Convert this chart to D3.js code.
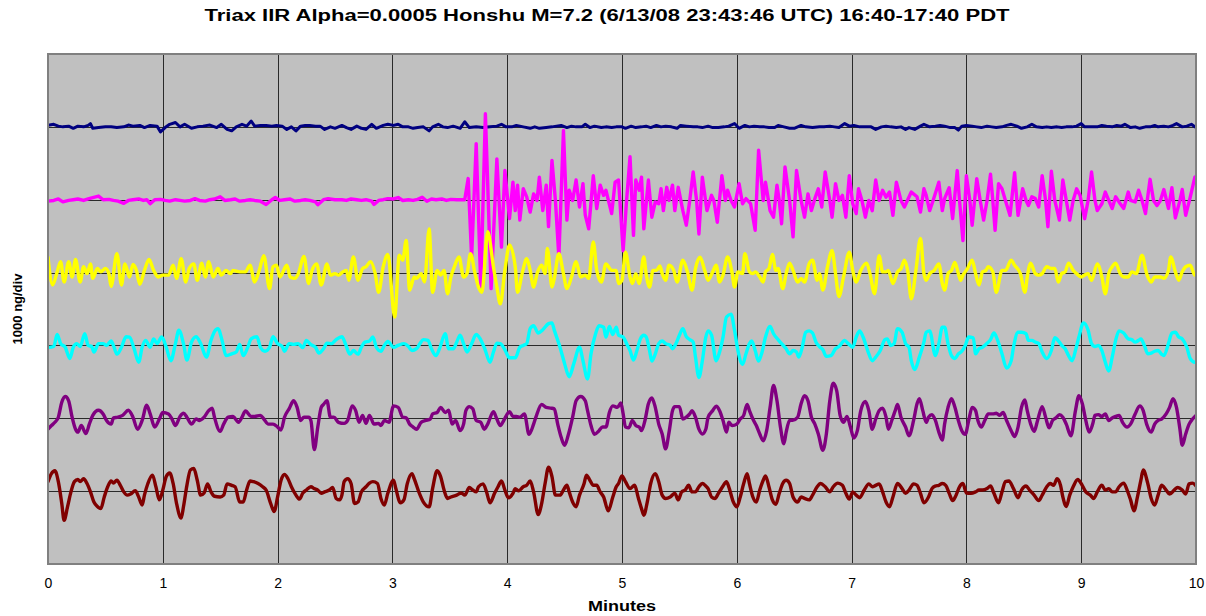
<!DOCTYPE html>
<html>
<head>
<meta charset="utf-8">
<script src="https://cdn.jsdelivr.net/npm/d3@7/dist/d3.min.js"></script>
<style>
  html, body { margin: 0; padding: 0; background: #fff; }
  svg { display: block; }
  text { font-family: "Liberation Sans", Arial, sans-serif; fill: #000; }
</style>
</head>
<body>
<svg id="chart" width="1206" height="616"></svg>
<script>
// Six seismometer channels, each as [minute, deviation in ng] pairs,
// plotted about its own trace offset (1000 ng per division).
const traceNavy = [[0,20],[0.05,35],[0.09,10],[0.13,0],[0.18,10],[0.22,-20],[0.26,10],[0.31,0],[0.35,20],[0.37,45],[0.39,-20],[0.44,-10],[0.5,0],[0.55,0],[0.6,-10],[0.66,0],[0.7,25],[0.74,10],[0.8,20],[0.84,-10],[0.89,20],[0.95,10],[0.98,-70],[1.02,-10],[1.06,35],[1.11,60],[1.15,0],[1.19,35],[1.25,-20],[1.3,0],[1.35,10],[1.41,25],[1.47,-10],[1.51,35],[1.56,-35],[1.6,-55],[1.64,0],[1.69,35],[1.73,10],[1.77,80],[1.8,10],[1.85,20],[1.9,20],[1.95,10],[1.99,20],[2.04,10],[2.08,-35],[2.12,0],[2.16,-55],[2.2,10],[2.24,20],[2.28,20],[2.33,10],[2.37,10],[2.41,-35],[2.46,0],[2.5,-20],
[2.56,20],[2.6,-10],[2.64,-35],[2.69,10],[2.73,-20],[2.77,-35],[2.82,35],[2.86,-20],[2.92,20],[2.96,35],[3.01,20],[3.05,35],[3.09,0],[3.14,0],[3.18,-20],[3.22,-10],[3.27,0],[3.32,-55],[3.35,0],[3.4,35],[3.44,0],[3.48,-10],[3.53,10],[3.59,-20],[3.63,70],[3.67,-10],[3.73,0],[3.79,-10],[3.85,0],[3.91,10],[3.95,35],[3.99,0],[4.04,0],[4.08,20],[4.14,0],[4.2,-20],[4.24,0],[4.28,-20],[4.34,-10],[4.39,0],[4.43,10],[4.47,20],[4.52,-10],[4.56,10],[4.6,0],[4.65,0],[4.68,35],[4.72,-10],[4.76,10],[4.82,-10],[4.86,0],[4.91,-10],[4.95,0],
[5,0],[5.03,-20],[5.08,10],[5.12,-10],[5.17,0],[5.21,10],[5.25,-10],[5.3,20],[5.34,0],[5.38,10],[5.43,0],[5.48,-20],[5.51,20],[5.56,10],[5.62,0],[5.66,0],[5.7,-10],[5.75,10],[5.79,-10],[5.84,-10],[5.89,0],[5.93,10],[5.98,45],[6.02,-20],[6.07,20],[6.11,0],[6.15,10],[6.2,0],[6.24,0],[6.28,-10],[6.33,-10],[6.36,20],[6.41,0],[6.46,-20],[6.5,-20],[6.56,20],[6.6,0],[6.66,-10],[6.72,0],[6.76,0],[6.81,10],[6.85,0],[6.89,-10],[6.94,45],[6.98,10],[7.02,20],[7.07,0],[7.11,0],[7.17,0],[7.21,-35],[7.26,0],[7.3,10],[7.34,0],[7.39,-10],[7.43,0],[7.47,-35],
[7.5,-10],[7.55,-35],[7.6,10],[7.63,35],[7.68,0],[7.73,10],[7.77,20],[7.81,10],[7.86,-10],[7.9,-10],[7.93,-45],[7.96,10],[8,20],[8.05,10],[8.09,0],[8.13,-10],[8.18,10],[8.22,0],[8.26,-10],[8.31,0],[8.35,20],[8.39,35],[8.44,10],[8.48,-20],[8.53,0],[8.57,35],[8.61,0],[8.66,-10],[8.7,0],[8.74,-10],[8.79,0],[8.83,-10],[8.87,0],[8.92,0],[8.96,10],[9,45],[9.03,0],[9.09,0],[9.14,0],[9.18,20],[9.22,10],[9.27,0],[9.31,20],[9.35,10],[9.38,35],[9.43,-10],[9.47,0],[9.51,-20],[9.56,0],[9.6,0],[9.64,20],[9.67,0],[9.72,10],[9.76,0],[9.8,20],[9.83,45],[9.88,0],[9.92,10],[9.96,35],[10,-10]];

const traceMagenta = [[0,-20],[0.05,-10],[0.09,10],[0.13,-30],[0.18,-10],[0.22,0],[0.26,10],[0.31,-10],[0.35,10],[0.39,30],[0.44,50],[0.48,0],[0.53,5],[0.57,-10],[0.61,-20],[0.66,-50],[0.7,-10],[0.74,0],[0.79,10],[0.83,-10],[0.86,0],[0.89,-55],[0.93,0],[0.98,5],[1.02,-10],[1.06,-20],[1.11,0],[1.15,-10],[1.19,-20],[1.24,-10],[1.28,15],[1.32,-10],[1.37,-20],[1.41,0],[1.45,10],[1.5,40],[1.54,-10],[1.59,0],[1.63,10],[1.67,-20],[1.72,-10],[1.76,0],[1.8,-10],[1.85,-20],[1.9,-65],[1.95,0],[1.98,30],[2.02,-10],[2.06,0],[2.11,10],[2.15,-20],[2.2,-10],[2.24,0],[2.28,-10],[2.33,-30],[2.35,-70],[2.4,0],[2.44,15],[2.5,0],
[2.56,0],[2.6,-10],[2.64,10],[2.69,0],[2.73,-10],[2.77,0],[2.82,-20],[2.84,-65],[2.88,-10],[2.92,0],[2.96,15],[3.01,10],[3.05,30],[3.09,-10],[3.14,0],[3.18,-10],[3.22,5],[3.26,35],[3.3,-20],[3.34,10],[3.38,0],[3.43,10],[3.47,-10],[3.51,5],[3.56,0],[3.6,0],[3.63,0],
[3.66,290],[3.69,-790],[3.73,770],[3.77,-1200],[3.81,1180],[3.86,-1220],[3.91,560],[3.95,-650],[3.98,400],[4.02,-260],[4.05,240],[4.07,-150],[4.09,200],[4.11,-280],[4.14,150],[4.17,40],[4.2,-170],[4.23,80],[4.26,-10],[4.28,310],[4.31,-150],[4.34,200],[4.36,-370],[4.39,540],[4.42,-10],[4.45,-790],[4.49,950],[4.52,-280],[4.54,130],[4.57,-10],[4.6,270],[4.63,-100],[4.66,220],[4.68,-210],[4.71,-400],[4.75,330],[4.78,-120],[4.81,200],[4.84,60],[4.86,130],[4.91,-190],[4.94,240],[4.97,270],
[5.01,-700],[5.04,-10],[5.07,590],[5.1,-490],[5.12,270],[5.15,130],[5.17,310],[5.19,-400],[5.23,270],[5.26,-240],[5.29,-30],[5.32,-55],[5.34,150],[5.36,-150],[5.39,170],[5.41,-10],[5.44,200],[5.46,-150],[5.49,170],[5.53,-150],[5.56,-350],[5.59,-10],[5.62,380],[5.65,-10],[5.67,-470],[5.7,310],[5.74,-150],[5.78,60],[5.8,-10],[5.83,-310],[5.87,330],[5.9,-10],[5.92,130],[5.95,-10],[5.98,-100],[6.02,220],[6.05,-55],[6.08,15],[6.12,-55],[6.16,-420],[6.19,680],[6.23,-10],[6.25,240],[6.29,-150],[6.32,-240],[6.35,200],[6.37,-10],[6.39,-330],[6.42,450],[6.46,-10],[6.49,-510],[6.52,400],[6.56,-10],[6.59,-240],[6.62,80],[6.65,-150],[6.68,15],[6.71,150],[6.74,-100],[6.77,380],[6.81,-10],[6.83,-240],[6.86,220],[6.89,-10],[6.92,60],[6.95,-240],[6.98,330],[7.01,-55],[7.04,-190],[7.06,150],[7.09,-10],[7.12,-240],[7.15,-10],[7.18,-150],[7.21,270],[7.24,-10],[7.27,130],[7.3,35],[7.33,105],[7.36,-215],[7.39,240],[7.43,-10],[7.46,-100],
[7.52,105],[7.57,40],[7.6,-170],[7.63,150],[7.65,60],[7.68,-150],[7.71,-10],[7.76,240],[7.79,-150],[7.81,15],[7.85,165],[7.88,-260],[7.92,400],[7.94,-10],[7.97,-560],[8,330],[8.03,-10],[8.05,-350],[8.09,290],[8.12,-10],[8.15,-280],[8.18,-10],[8.21,350],[8.23,-10],[8.25,-420],[8.28,220],[8.31,150],[8.34,-10],[8.38,-215],[8.42,370],[8.45,-215],[8.49,150],[8.52,-10],[8.54,-80],[8.57,40],[8.6,15],[8.63,-100],[8.66,330],[8.69,-10],[8.71,-370],[8.74,390],[8.77,-10],[8.81,-280],[8.84,270],[8.87,-10],[8.9,-280],[8.93,-10],[8.96,150],[8.99,60],[9.03,-260],[9.06,-10],[9.09,380],[9.12,-10],[9.14,-150],[9.18,-55],[9.21,105],[9.24,-10],[9.27,-120],[9.3,40],[9.34,-55],[9.37,-120],[9.41,105],[9.43,-10],[9.47,-30],[9.5,130],[9.53,-10],[9.56,-190],[9.6,280],[9.63,-10],[9.66,-80],[9.69,-10],[9.72,140],[9.76,-120],[9.79,165],[9.82,-250],[9.86,-10],[9.88,140],[9.91,-215],[9.95,35],[9.99,310],[10,320]];

const traceYellow = [[0,210],[0.04,-170],[0.08,10],[0.11,150],[0.14,-130],[0.18,150],[0.21,-60],[0.24,180],[0.28,-130],[0.31,80],[0.34,-15],[0.37,120],[0.39,-80],[0.43,55],[0.46,10],[0.5,55],[0.53,-15],[0.55,-190],[0.6,260],[0.64,-170],[0.67,120],[0.71,-60],[0.74,110],[0.77,30],[0.8,-160],[0.84,30],[0.88,180],[0.92,30],[0.96,-60],[1,-35],[1.05,-35],[1.09,100],[1.12,-80],[1.16,190],[1.2,-130],[1.23,55],[1.27,120],[1.3,-105],[1.34,130],[1.37,-60],[1.4,150],[1.44,-60],[1.48,55],[1.51,-35],[1.55,30],[1.59,-15],[1.61,30],[1.67,10],[1.72,10],[1.76,100],[1.8,-130],[1.84,30],[1.88,230],[1.93,-220],[1.96,80],[1.99,100],[2.02,-60],[2.08,100],[2.11,-60],[2.15,-80],[2.18,-15],[2.23,220],[2.27,-150],[2.3,30],[2.34,120],[2.38,-170],[2.43,120],[2.46,-35],[2.5,-15],
[2.53,-35],[2.57,10],[2.6,30],[2.62,-105],[2.66,215],[2.7,-105],[2.74,55],[2.77,80],[2.81,150],[2.85,-15],[2.88,-270],[2.92,80],[2.96,250],[3.02,-610],[3.06,240],[3.09,170],[3.12,440],[3.15,-240],[3.19,-60],[3.21,-80],[3.25,-15],[3.28,-130],[3.32,600],[3.35,-270],[3.39,30],[3.42,-35],[3.45,30],[3.48,-290],[3.51,-60],[3.54,80],[3.58,215],[3.62,-60],[3.65,-15],[3.68,260],[3.72,-15],[3.75,-200],[3.78,-270],[3.83,560],[3.88,80],[3.91,-200],[3.94,-430],[3.98,30],[4.02,380],[4.07,80],[4.09,-270],[4.13,-15],[4.17,190],[4.2,30],[4.23,-200],[4.26,-15],[4.3,100],[4.33,-15],[4.35,330],[4.39,-200],[4.41,-80],[4.45,260],[4.49,-15],[4.52,-220],[4.56,-60],[4.6,150],[4.64,-60],[4.68,-35],[4.71,-80],[4.75,420],[4.78,30],[4.82,-130],[4.86,120],[4.91,30],[4.95,30],[4.97,-150],
[5,-105],[5.03,280],[5.07,-60],[5.09,-150],[5.12,-15],[5.15,-150],[5.19,215],[5.21,-15],[5.24,-200],[5.27,30],[5.3,30],[5.33,90],[5.35,-15],[5.38,-105],[5.41,100],[5.45,30],[5.48,-130],[5.53,170],[5.57,10],[5.61,-240],[5.64,55],[5.68,210],[5.72,30],[5.75,-105],[5.79,10],[5.82,100],[5.85,-130],[5.88,-35],[5.92,215],[5.96,-15],[5.98,-200],[6.01,10],[6.05,-15],[6.07,260],[6.11,10],[6.14,-15],[6.16,10],[6.2,-60],[6.23,-130],[6.25,10],[6.28,55],[6.31,250],[6.34,30],[6.36,55],[6.4,-220],[6.43,-15],[6.46,130],[6.49,30],[6.53,-130],[6.56,-80],[6.59,-130],[6.63,120],[6.66,170],[6.7,-105],[6.72,-15],[6.75,-240],[6.79,80],[6.83,300],[6.86,-15],[6.89,-330],[6.93,-60],[6.98,280],[7.01,30],[7.04,-130],[7.08,30],[7.13,130],[7.16,-15],[7.2,-290],[7.24,230],[7.27,10],[7.3,10],[7.32,30],[7.36,-150],[7.4,10],[7.43,55],[7.46,170],
[7.49,10],[7.52,-360],[7.56,30],[7.6,470],[7.63,-15],[7.65,-105],[7.68,-15],[7.72,30],[7.76,120],[7.79,-150],[7.81,-240],[7.84,-15],[7.87,30],[7.9,140],[7.93,-15],[7.95,-105],[7.97,-35],[8.01,55],[8.05,170],[8.08,-15],[8.11,-170],[8.14,10],[8.17,30],[8.19,80],[8.23,10],[8.26,-270],[8.31,30],[8.34,30],[8.39,170],[8.42,100],[8.47,-15],[8.51,-270],[8.53,-60],[8.56,130],[8.6,-15],[8.63,-35],[8.66,-15],[8.7,80],[8.74,55],[8.77,55],[8.8,-130],[8.83,-15],[8.86,10],[8.89,130],[8.93,30],[8.96,-15],[9,-60],[9.03,-35],[9.06,-15],[9.09,-105],[9.14,120],[9.18,-60],[9.21,-290],[9.24,-15],[9.27,80],[9.3,130],[9.34,-15],[9.37,-60],[9.41,-60],[9.44,10],[9.48,-15],[9.53,240],[9.57,-15],[9.61,-130],[9.64,-60],[9.69,-60],[9.72,-80],[9.76,30],[9.78,215],[9.82,10],[9.85,-105],[9.88,10],[9.91,80],[9.95,100],[9.99,-35],[10,-35]];

const traceCyan = [[0,-30],[0.05,-15],[0.08,150],[0.11,25],[0.15,-25],[0.19,-180],[0.22,-25],[0.25,25],[0.28,-15],[0.32,160],[0.35,0],[0.38,-15],[0.4,-90],[0.44,25],[0.48,25],[0.51,0],[0.55,60],[0.57,0],[0.6,-120],[0.64,-25],[0.68,120],[0.71,115],[0.75,-45],[0.79,-230],[0.82,-25],[0.85,70],[0.89,-25],[0.92,90],[0.95,25],[0.99,115],[1.03,-25],[1.07,-210],[1.11,25],[1.14,210],[1.18,25],[1.21,-200],[1.25,45],[1.29,120],[1.33,25],[1.38,-160],[1.42,70],[1.45,190],[1.48,230],[1.52,45],[1.55,-140],[1.6,-115],[1.64,-90],[1.67,15],[1.7,-140],[1.74,-25],[1.77,90],[1.82,120],[1.85,-25],[1.89,-80],[1.93,-25],[1.96,120],[2,25],[2.04,-15],[2.06,-80],[2.1,25],[2.14,15],[2.18,25],[2.22,-30],[2.25,70],[2.29,10],[2.33,-25],[2.36,-105],[2.4,-45],[2.43,30],[2.47,25],[2.51,80],
[2.56,120],[2.59,25],[2.63,-120],[2.66,-70],[2.7,-120],[2.73,-25],[2.76,45],[2.8,60],[2.83,115],[2.86,-25],[2.9,-80],[2.93,0],[2.96,55],[3.01,-25],[3.05,0],[3.1,25],[3.14,-15],[3.17,-70],[3.21,-45],[3.24,25],[3.27,80],[3.31,70],[3.34,-45],[3.38,-140],[3.41,-45],[3.46,160],[3.49,-45],[3.53,-45],[3.56,45],[3.59,140],[3.62,25],[3.65,-90],[3.69,25],[3.73,150],[3.78,45],[3.81,-70],[3.85,-230],[3.88,-90],[3.91,30],[3.94,25],[3.98,-60],[4.02,-170],[4.07,-170],[4.11,-25],[4.14,0],[4.17,25],[4.2,230],[4.23,270],[4.27,170],[4.31,215],[4.36,300],[4.39,310],[4.41,210],[4.46,-25],[4.5,-250],[4.54,-430],[4.58,-250],[4.63,-25],[4.66,-210],[4.7,-460],[4.73,-115],[4.77,160],[4.8,270],[4.84,250],[4.86,115],[4.89,260],[4.92,150],[4.95,250],[4.97,140],
[5.01,115],[5.04,25],[5.07,-70],[5.1,-200],[5.13,-70],[5.16,90],[5.19,140],[5.21,120],[5.24,-70],[5.26,-215],[5.29,-115],[5.32,25],[5.35,60],[5.38,25],[5.42,0],[5.44,-45],[5.47,25],[5.5,140],[5.53,230],[5.56,120],[5.59,80],[5.62,45],[5.64,-160],[5.67,-440],[5.7,-210],[5.73,115],[5.75,200],[5.78,140],[5.82,-210],[5.85,-90],[5.88,115],[5.91,390],[5.95,430],[5.98,210],[6.01,-70],[6.05,-260],[6.08,-115],[6.11,25],[6.13,60],[6.16,-70],[6.19,-215],[6.22,-90],[6.25,115],[6.29,260],[6.32,160],[6.36,80],[6.39,25],[6.43,-45],[6.46,-115],[6.49,-70],[6.52,-90],[6.54,-160],[6.57,-25],[6.6,180],[6.63,200],[6.66,170],[6.69,45],[6.72,-15],[6.75,-60],[6.78,-150],[6.82,-140],[6.86,-45],[6.89,-15],[6.94,70],[6.97,25],[7.01,-25],[7.04,115],[7.07,200],[7.1,115],[7.14,-70],[7.18,-210],[7.21,-160],[7.25,-70],[7.29,80],[7.31,90],[7.34,0],[7.37,25],[7.4,230],[7.44,180],[7.47,25],
[7.5,-25],[7.52,-210],[7.55,-330],[7.59,-160],[7.63,45],[7.65,180],[7.68,200],[7.73,-140],[7.76,25],[7.79,250],[7.81,250],[7.84,25],[7.87,-140],[7.9,-180],[7.93,-115],[7.96,-80],[7.99,0],[8.02,115],[8.06,105],[8.08,-115],[8.11,-45],[8.14,-25],[8.18,30],[8.21,80],[8.24,170],[8.27,80],[8.31,-115],[8.35,-310],[8.39,-210],[8.41,-25],[8.45,180],[8.48,180],[8.52,160],[8.54,70],[8.57,70],[8.6,45],[8.63,25],[8.66,-90],[8.7,-180],[8.74,-70],[8.77,105],[8.81,45],[8.83,0],[8.86,-45],[8.89,-140],[8.92,-210],[8.95,-70],[8.98,115],[9.02,310],[9.06,210],[9.09,25],[9.12,-15],[9.15,0],[9.18,-70],[9.21,-230],[9.24,-350],[9.27,-160],[9.3,70],[9.33,200],[9.37,170],[9.41,90],[9.44,80],[9.47,45],[9.5,70],[9.52,90],[9.55,0],[9.58,-115],[9.61,-105],[9.64,-80],[9.67,-70],[9.7,-120],[9.72,-140],[9.76,25],[9.79,170],[9.82,180],[9.85,115],[9.88,90],[9.92,-25],[9.95,-180],[9.99,-230],[10,-230]];

const tracePurple = [[0,-150],[0.03,-100],[0.06,-55],[0.09,15],[0.12,220],[0.15,300],[0.18,240],[0.21,15],[0.24,-150],[0.26,-190],[0.29,-100],[0.33,-210],[0.36,-80],[0.39,40],[0.44,110],[0.48,60],[0.51,-30],[0.55,-80],[0.57,5],[0.61,15],[0.65,40],[0.7,110],[0.74,15],[0.78,-150],[0.82,-30],[0.86,180],[0.89,60],[0.93,-120],[0.97,-10],[1,80],[1.05,60],[1.08,-10],[1.11,-100],[1.15,25],[1.18,70],[1.21,15],[1.25,-80],[1.29,-10],[1.32,-30],[1.36,15],[1.4,105],[1.43,140],[1.45,15],[1.5,-180],[1.53,-80],[1.57,15],[1.61,25],[1.66,-55],[1.69,15],[1.72,100],[1.77,25],[1.8,25],[1.85,40],[1.88,-10],[1.92,-80],[1.96,-80],[2,-120],[2.03,-160],[2.06,15],[2.1,130],[2.14,240],[2.17,150],[2.2,-30],[2.23,15],[2.27,15],[2.29,-30],[2.32,-430],[2.35,-120],[2.38,150],[2.4,190],[2.43,240],[2.46,15],[2.49,15],[2.53,-55],
[2.58,-70],[2.61,-30],[2.65,170],[2.68,105],[2.71,-55],[2.74,40],[2.77,-70],[2.8,40],[2.84,-80],[2.88,-70],[2.9,-100],[2.93,-30],[2.97,-55],[3.01,170],[3.05,150],[3.09,15],[3.12,5],[3.15,-80],[3.18,-120],[3.21,-150],[3.25,-55],[3.29,-30],[3.33,-10],[3.35,60],[3.39,80],[3.42,150],[3.46,80],[3.49,110],[3.52,-80],[3.55,-30],[3.59,-170],[3.62,-80],[3.64,105],[3.67,160],[3.7,130],[3.73,-30],[3.77,-55],[3.8,-150],[3.83,-80],[3.88,90],[3.91,-10],[3.94,-100],[3.97,-30],[4.02,90],[4.05,25],[4.08,25],[4.11,15],[4.15,60],[4.19,-220],[4.23,-80],[4.25,15],[4.3,190],[4.34,150],[4.38,140],[4.41,130],[4.44,-80],[4.47,-260],[4.5,-370],[4.53,-240],[4.57,15],[4.6,240],[4.64,300],[4.68,240],[4.7,105],[4.73,-100],[4.76,-220],[4.8,-170],[4.83,-120],[4.86,-120],[4.89,80],[4.92,170],[4.96,150],[4.99,210],
[5.01,60],[5.03,-120],[5.06,-130],[5.09,-30],[5.12,-100],[5.15,-120],[5.17,-170],[5.2,-30],[5.23,200],[5.26,280],[5.29,150],[5.32,-80],[5.35,-215],[5.38,-420],[5.41,-190],[5.44,105],[5.46,160],[5.5,160],[5.53,-10],[5.56,15],[5.59,60],[5.61,105],[5.64,15],[5.67,-150],[5.7,-215],[5.73,-150],[5.75,15],[5.79,105],[5.82,165],[5.85,105],[5.88,-30],[5.91,-190],[5.93,-55],[5.96,-100],[6,-80],[6.03,-10],[6.06,40],[6.09,190],[6.11,105],[6.14,-10],[6.17,-100],[6.2,-215],[6.23,-310],[6.26,-170],[6.29,150],[6.32,450],[6.35,240],[6.38,-120],[6.41,-350],[6.43,-190],[6.46,-30],[6.49,-25],[6.53,15],[6.56,200],[6.59,310],[6.62,240],[6.65,15],[6.68,-80],[6.71,-215],[6.75,-440],[6.78,-215],[6.81,240],[6.84,480],[6.87,380],[6.9,40],[6.93,-55],[6.96,25],[6.99,-120],[7.02,-270],[7.05,-170],[7.08,105],[7.12,230],[7.15,105],[7.18,-150],[7.21,-10],[7.24,105],[7.27,140],[7.3,15],[7.32,-150],[7.35,-30],[7.38,105],[7.4,190],[7.43,15],[7.47,-120],
[7.5,-240],[7.54,-30],[7.57,200],[7.59,270],[7.62,105],[7.65,-55],[7.67,15],[7.7,50],[7.73,-30],[7.76,-190],[7.79,-300],[7.81,-80],[7.84,150],[7.87,270],[7.9,150],[7.93,-30],[7.96,-170],[7.99,-220],[8.02,-30],[8.05,150],[8.08,105],[8.1,-30],[8.13,-120],[8.16,-30],[8.19,60],[8.23,60],[8.26,70],[8.29,40],[8.32,80],[8.35,-30],[8.39,-170],[8.42,-250],[8.45,-120],[8.48,150],[8.51,250],[8.53,105],[8.56,-80],[8.59,-180],[8.62,-30],[8.66,160],[8.69,15],[8.72,-130],[8.75,-30],[8.78,5],[8.81,50],[8.84,15],[8.87,-80],[8.91,-240],[8.95,105],[8.98,310],[9.01,200],[9.04,-30],[9.07,-190],[9.1,-80],[9.12,40],[9.15,50],[9.18,25],[9.21,60],[9.24,-30],[9.27,5],[9.3,25],[9.33,40],[9.36,-55],[9.4,-120],[9.43,-80],[9.47,60],[9.51,170],[9.54,105],[9.57,-80],[9.61,-190],[9.64,-80],[9.67,-30],[9.7,-10],[9.74,60],[9.77,150],[9.8,270],[9.83,150],[9.86,-150],[9.88,-370],[9.91,-215],[9.94,-80],[9.97,-10],[10,40]];

const traceMaroon = [[0,130],[0.03,240],[0.06,280],[0.09,130],[0.12,-170],[0.14,-400],[0.17,-215],[0.2,-10],[0.23,130],[0.26,160],[0.28,130],[0.31,170],[0.34,105],[0.37,-10],[0.4,-150],[0.43,-210],[0.46,-240],[0.49,-80],[0.52,60],[0.55,140],[0.57,110],[0.6,150],[0.63,80],[0.66,-10],[0.69,-55],[0.72,-40],[0.76,5],[0.79,-80],[0.82,-190],[0.84,-55],[0.87,105],[0.91,220],[0.94,60],[0.97,-120],[1,15],[1.03,200],[1.06,250],[1.09,105],[1.12,-170],[1.16,-370],[1.18,-215],[1.21,80],[1.24,290],[1.27,310],[1.3,150],[1.33,-55],[1.36,-25],[1.39,100],[1.42,-10],[1.45,-70],[1.5,-80],[1.53,-55],[1.56,100],[1.6,80],[1.63,60],[1.67,-150],[1.7,-150],[1.73,15],[1.76,140],[1.79,130],[1.83,105],[1.87,60],[1.9,15],[1.94,-170],[1.97,-280],[2,-80],[2.03,150],[2.06,230],[2.09,170],[2.12,60],[2.16,-55],[2.19,-110],[2.22,-25],[2.25,15],[2.29,60],[2.32,35],[2.35,15],[2.38,-30],[2.41,-10],[2.45,15],[2.48,50],[2.51,-100],[2.54,-120],
[2.56,-55],[2.58,130],[2.61,170],[2.64,105],[2.67,-170],[2.7,-150],[2.73,-10],[2.77,60],[2.8,110],[2.83,130],[2.87,105],[2.9,-100],[2.93,-190],[2.96,-30],[3.01,150],[3.03,35],[3.07,-160],[3.1,-120],[3.13,105],[3.17,240],[3.19,170],[3.23,-10],[3.27,-150],[3.32,-215],[3.35,35],[3.39,280],[3.42,200],[3.45,15],[3.48,-100],[3.51,-80],[3.56,-55],[3.6,-25],[3.63,-55],[3.67,50],[3.7,15],[3.73,-10],[3.75,60],[3.79,100],[3.82,-10],[3.85,-160],[3.89,-30],[3.92,60],[3.95,140],[3.98,15],[4.01,-90],[4.05,-30],[4.07,35],[4.1,5],[4.14,60],[4.17,80],[4.2,140],[4.23,-10],[4.27,-320],[4.3,-170],[4.33,105],[4.36,330],[4.39,200],[4.42,-55],[4.46,-55],[4.49,15],[4.52,80],[4.54,-10],[4.57,-150],[4.6,-215],[4.63,-55],[4.67,105],[4.69,220],[4.72,150],[4.75,80],[4.78,80],[4.81,-10],[4.84,-80],[4.88,-270],[4.92,-80],[4.95,60],[4.97,105],[5,210],
[5.03,130],[5.07,35],[5.11,80],[5.14,-80],[5.17,-240],[5.19,-330],[5.22,-150],[5.25,105],[5.29,240],[5.32,130],[5.35,-55],[5.38,-100],[5.42,-80],[5.46,-30],[5.49,-120],[5.52,-10],[5.55,15],[5.58,80],[5.61,-10],[5.64,-10],[5.67,60],[5.7,105],[5.73,70],[5.75,35],[5.78,-80],[5.81,-100],[5.84,-30],[5.88,70],[5.91,130],[5.93,60],[5.97,-150],[6,-215],[6.03,-80],[6.06,105],[6.09,240],[6.11,105],[6.14,-80],[6.17,-150],[6.2,15],[6.23,150],[6.25,210],[6.28,60],[6.31,-120],[6.34,-180],[6.37,-30],[6.4,105],[6.43,150],[6.46,105],[6.49,-80],[6.53,-150],[6.56,-80],[6.59,-100],[6.63,-120],[6.66,-55],[6.7,60],[6.73,105],[6.77,60],[6.81,-10],[6.84,60],[6.88,110],[6.92,80],[6.95,-30],[6.98,-110],[7.01,-10],[7.04,-55],[7.07,-90],[7.11,15],[7.15,100],[7.18,60],[7.21,80],[7.24,100],[7.27,-10],[7.3,-150],[7.33,-215],[7.36,-80],[7.4,105],[7.44,35],[7.47,-30],
[7.5,15],[7.54,100],[7.57,80],[7.6,-30],[7.63,-160],[7.67,-80],[7.7,35],[7.73,70],[7.76,80],[7.79,105],[7.82,80],[7.85,-30],[7.88,-130],[7.91,-55],[7.94,60],[7.97,105],[8,-25],[8.04,-30],[8.08,-10],[8.11,15],[8.14,15],[8.18,35],[8.21,70],[8.24,-30],[8.28,-160],[8.31,-10],[8.34,130],[8.37,140],[8.41,35],[8.45,-90],[8.48,15],[8.52,70],[8.55,15],[8.59,-55],[8.63,-130],[8.66,-55],[8.7,60],[8.73,105],[8.76,80],[8.79,170],[8.82,80],[8.84,-80],[8.87,-210],[8.9,-55],[8.93,60],[8.97,160],[9,105],[9.04,-10],[9.08,-55],[9.11,-100],[9.14,-10],[9.18,80],[9.21,15],[9.24,35],[9.27,-10],[9.3,-10],[9.33,60],[9.37,110],[9.4,15],[9.43,-120],[9.46,-270],[9.49,-80],[9.52,150],[9.54,290],[9.58,105],[9.61,-100],[9.64,-190],[9.67,-55],[9.7,80],[9.74,15],[9.77,-40],[9.81,15],[9.84,50],[9.88,15],[9.91,-40],[9.94,100],[9.97,110],[10,70]];

// Trace offsets (ng), colours and drawing order, top trace first
const traceOffsets = [6000, 5000, 4000, 3000, 2000, 1000];
const traceColors = ["#000080", "#FF00FF", "#FFFF00", "#00FFFF", "#800080", "#800000"];
const traces = [traceNavy, traceMagenta, traceYellow, traceCyan, tracePurple, traceMaroon];
const smoothTraces = [false, false, true, true, true, true];

const minuteTicks = [0, 1, 2, 3, 4, 5, 6, 7, 8, 9, 10];
const levelTicks = [0, 1000, 2000, 3000, 4000, 5000, 6000, 7000];

const titleText = "Triax IIR Alpha=0.0005 Honshu M=7.2 (6/13/08 23:43:46 UTC) 16:40-17:40 PDT";
const xTitle = "Minutes";
const yTitle = "1000 ng/div";

const svg = d3.select("#chart");
const plot = { left: 48, right: 1196, top: 54, bottom: 564 };

const x = d3.scaleLinear().domain([0, 10]).range([plot.left, plot.right]);
const y = d3.scaleLinear().domain([0, 7000]).range([plot.bottom, plot.top]);

// plot background
svg.append("rect")
  .attr("x", plot.left).attr("y", plot.top)
  .attr("width", plot.right - plot.left).attr("height", plot.bottom - plot.top)
  .attr("fill", "#C0C0C0");

// grid
const grid = svg.append("g").attr("shape-rendering", "crispEdges");
grid.selectAll("line.v").data(minuteTicks.slice(1, -1)).join("line")
  .attr("class", "v")
  .attr("x1", d => Math.round(x(d)) + 0.5).attr("x2", d => Math.round(x(d)) + 0.5)
  .attr("y1", plot.top).attr("y2", plot.bottom)
  .attr("stroke", "#2a2a2a").attr("stroke-width", 1);
grid.selectAll("line.h").data(levelTicks.slice(1, -1)).join("line")
  .attr("class", "h")
  .attr("x1", plot.left).attr("x2", plot.right)
  .attr("y1", d => Math.round(y(d)) + 0.5).attr("y2", d => Math.round(y(d)) + 0.5)
  .attr("stroke", "#2a2a2a").attr("stroke-width", 1);

// traces
svg.append("clipPath").attr("id", "plotClip")
  .append("rect")
  .attr("x", plot.left).attr("y", plot.top)
  .attr("width", plot.right - plot.left).attr("height", plot.bottom - plot.top);

const traceLayer = svg.append("g").attr("clip-path", "url(#plotClip)");
traces.forEach((pts, i) => {
  const line = d3.line()
    .x(d => x(d[0]))
    .y(d => y(traceOffsets[i] + d[1]))
    .curve(smoothTraces[i] ? d3.curveMonotoneX : d3.curveLinear);
  traceLayer.append("path")
    .datum(pts)
    .attr("d", line)
    .attr("fill", "none")
    .attr("stroke", traceColors[i])
    .attr("stroke-width", i === 0 ? 3 : 3.4)
    .attr("stroke-linejoin", "round")
    .attr("stroke-linecap", "round");
});

// plot frame
svg.append("rect")
  .attr("x", plot.left).attr("y", plot.top)
  .attr("width", plot.right - plot.left).attr("height", plot.bottom - plot.top)
  .attr("fill", "none").attr("stroke", "#808080").attr("stroke-width", 2);

// x axis labels
const xAxis = d3.axisBottom(x).tickValues(minuteTicks).tickSize(0).tickPadding(14).tickFormat(d3.format("d"));
const xg = svg.append("g").attr("transform", `translate(0,${plot.bottom})`).call(xAxis);
xg.select(".domain").remove();
xg.selectAll("text")
  .attr("font-family", "'Liberation Sans', Arial, sans-serif")
  .attr("font-size", 14).attr("fill", "#000");

// titles
svg.append("text")
  .attr("x", 607).attr("y", 21)
  .attr("text-anchor", "middle")
  .attr("font-size", 16).attr("font-weight", "bold")
  .attr("textLength", 805).attr("lengthAdjust", "spacingAndGlyphs")
  .text(titleText);

svg.append("text")
  .attr("x", 622).attr("y", 611)
  .attr("text-anchor", "middle")
  .attr("font-size", 14).attr("font-weight", "bold")
  .attr("textLength", 68).attr("lengthAdjust", "spacingAndGlyphs")
  .text(xTitle);

svg.append("text")
  .attr("transform", "translate(22,309) rotate(-90)")
  .attr("text-anchor", "middle")
  .attr("font-size", 13).attr("font-weight", "bold")
  .text(yTitle);
</script>
</body>
</html>
